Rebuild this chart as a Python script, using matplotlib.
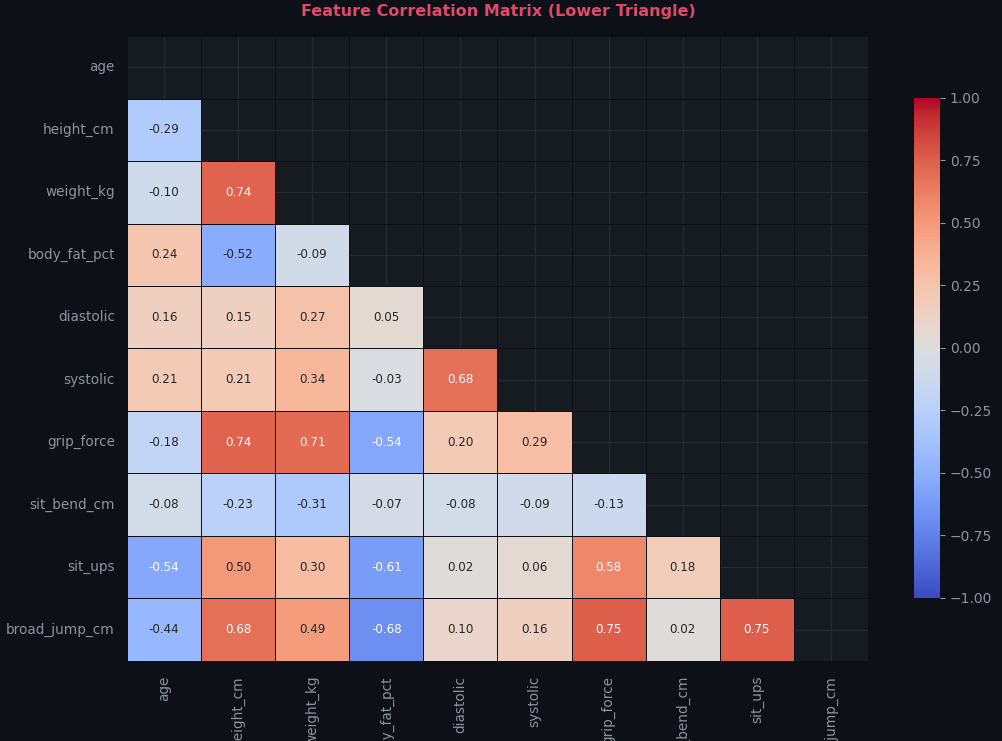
import numpy as np
import pandas as pd
import matplotlib
matplotlib.use("Agg")
import matplotlib.pyplot as plt
import seaborn as sns

features = ["age", "height_cm", "weight_kg", "body_fat_pct", "diastolic",
            "systolic", "grip_force", "sit_bend_cm", "sit_ups", "broad_jump_cm"]

lower_rows = [
    [],
    [-0.29],
    [-0.10, 0.74],
    [0.24, -0.52, -0.09],
    [0.16, 0.15, 0.27, 0.05],
    [0.21, 0.21, 0.34, -0.03, 0.68],
    [-0.18, 0.74, 0.71, -0.54, 0.20, 0.29],
    [-0.08, -0.23, -0.31, -0.07, -0.08, -0.09, -0.13],
    [-0.54, 0.50, 0.30, -0.61, 0.02, 0.06, 0.58, 0.18],
    [-0.44, 0.68, 0.49, -0.68, 0.10, 0.16, 0.75, 0.02, 0.75],
]

n = len(features)
corr = np.eye(n)
for i, row in enumerate(lower_rows):
    for j, v in enumerate(row):
        corr[i, j] = v
        corr[j, i] = v
corr_df = pd.DataFrame(corr, index=features, columns=features)
mask = np.triu(np.ones((n, n), dtype=bool))

FIG_BG = "#0d1117"
AX_BG = "#161b22"
TXT = "#8b949e"

fig = plt.figure(figsize=(10.03, 7.41), dpi=100, facecolor=FIG_BG)
ax = fig.add_axes([0.1266, 0.108, 0.7388, 0.8434])
cax = fig.add_axes([0.9113, 0.193, 0.0259, 0.675])
ax.set_facecolor(AX_BG)

sns.heatmap(corr_df, mask=mask, cmap="coolwarm", vmin=-1, vmax=1, center=0,
            annot=True, fmt=".2f", annot_kws={"size": 8.6},
            linewidths=0.5, linecolor="#0d1117", ax=ax, cbar_ax=cax)

ax.set_axisbelow(True)
ax.grid(True, color="#242a33", linewidth=1.0)
ax.tick_params(axis="both", length=0, colors=TXT, labelsize=9.8)
ax.set_xticklabels(features, rotation=90, color=TXT, fontsize=9.8)
ax.set_yticklabels(features, rotation=0, color=TXT, fontsize=9.8)
ax.tick_params(axis="x", pad=10.5)
ax.tick_params(axis="y", pad=8.8)

cax.tick_params(colors=TXT, labelsize=10)
cax.set_facecolor(FIG_BG)
for s in cax.spines.values():
    s.set_visible(False)

fig.text(0.497, 0.984, "Feature Correlation Matrix (Lower Triangle)",
         ha="center", va="center", fontsize=11.5, fontweight="bold", color="#e0486c")

fig.savefig("out.png", dpi=100, facecolor=FIG_BG)
